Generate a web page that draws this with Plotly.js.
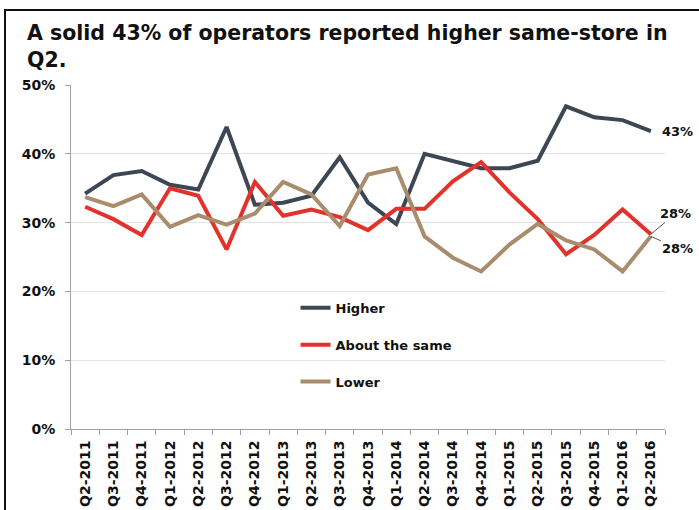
<!DOCTYPE html>
<html>
<head>
<meta charset="utf-8">
<script src="https://cdn.plot.ly/plotly-3.0.1.min.js"></script>
<style>
  html, body { margin: 0; padding: 0; background: #fff; overflow: hidden; }
  #chart { width: 699px; height: 510px; position: absolute; left: 0; top: 0; }
  #frame { position: absolute; left: 4px; top: 9px; width: 800px; height: 600px; border: 2px solid #111; pointer-events: none; }
</style>
</head>
<body>
<div id="chart"></div>
<div id="frame"></div>
<script>
const quarters = ["Q2-2011","Q3-2011","Q4-2011","Q1-2012","Q2-2012","Q3-2012","Q4-2012","Q1-2013","Q2-2013","Q3-2013","Q4-2013","Q1-2014","Q2-2014","Q3-2014","Q4-2014","Q1-2015","Q2-2015","Q3-2015","Q4-2015","Q1-2016","Q2-2016"];
const higher = [0.342,0.369,0.375,0.355,0.348,0.439,0.326,0.329,0.339,0.395,0.329,0.298,0.400,0.390,0.379,0.379,0.390,0.469,0.453,0.449,0.433];
const aboutSame = [0.323,0.305,0.282,0.350,0.339,0.261,0.359,0.310,0.319,0.308,0.289,0.320,0.320,0.360,0.388,0.344,0.305,0.254,0.282,0.319,0.283];
const lower = [0.337,0.324,0.341,0.294,0.311,0.297,0.313,0.359,0.341,0.295,0.370,0.379,0.280,0.249,0.229,0.268,0.298,0.274,0.261,0.229,0.280];
const seriesNames = ["Higher","About the same","Lower"];
const seriesColors = ["#3c4753","#e3322b","#a88c6c"];
const endLabels = ["43%","28%","28%"];

const font = "DejaVu Sans, Verdana, sans-serif";
const allSeries = [higher, aboutSame, lower];
const traces = allSeries.map((vals, i) => ({
  type: "scatter",
  mode: "lines",
  x: quarters,
  y: vals,
  name: seriesNames[i],
  legendgroup: "g" + i,
  line: { color: seriesColors[i], width: 4 },
  hoverinfo: "skip"
}));

const last = quarters.length - 1;
const labFont = { family: font, size: 13, color: "#111", weight: "bold" };
const annotations = [
  { x: quarters[last], y: higher[last], text: endLabels[0], showarrow: false, xanchor: "left", xshift: 9,
    font: labFont },
  { x: quarters[last], y: aboutSame[last], text: endLabels[1], showarrow: true, arrowhead: 0, arrowwidth: 1, arrowcolor: "#555",
    ax: 25, ay: -21, xanchor: "center", yanchor: "middle", font: labFont },
  { x: quarters[last], y: lower[last], text: endLabels[2], showarrow: true, arrowhead: 0, arrowwidth: 1, arrowcolor: "#555",
    ax: 27, ay: 12, xanchor: "center", yanchor: "middle", font: labFont }
];

const layout = {
  width: 699, height: 510,
  margin: { l: 71, r: 34, t: 85, b: 81 },
  paper_bgcolor: "#fff", plot_bgcolor: "#fff",
  showlegend: true,
  title: {
    text: "A solid 43% of operators reported higher same-store in<br>Q2.",
    x: 27 / 699, xref: "container", xanchor: "left",
    y: 1 - 40 / 510, yref: "container", yanchor: "top",
    font: { family: font, size: 20.5, color: "#111", weight: "bold" }
  },
  xaxis: {
    type: "category",
    range: [-0.5, quarters.length - 0.5],
    tickson: "boundaries",
    ticks: "outside", ticklen: 5, tickcolor: "#a0a0a0",
    showline: true, linecolor: "#a0a0a0", linewidth: 1,
    showgrid: false, zeroline: false,
    tickangle: -90,
    ticklabelstandoff: 5,
    tickfont: { family: font, size: 14, color: "#111", weight: "bold" }
  },
  yaxis: {
    range: [0, 0.5],
    tickvals: [0, 0.1, 0.2, 0.3, 0.4, 0.5],
    tickformat: ".0%",
    ticks: "outside", ticklen: 5, tickcolor: "#a0a0a0",
    showline: true, linecolor: "#a0a0a0", linewidth: 1,
    showgrid: true, gridcolor: "#e3e3e3", gridwidth: 1,
    zeroline: false,
    ticklabelstandoff: 7,
    tickfont: { family: font, size: 14, color: "#111", weight: "bold" }
  },
  legend: {
    x: 0.378, y: 0.396, xanchor: "left", yanchor: "top",
    bgcolor: "rgba(0,0,0,0)",
    traceorder: "grouped", tracegroupgap: 17,
    font: { family: font, size: 13, color: "#111", weight: "bold" }
  },
  annotations: annotations
};

Plotly.newPlot("chart", traces, layout, { displayModeBar: false, staticPlot: true });
</script>
</body>
</html>
